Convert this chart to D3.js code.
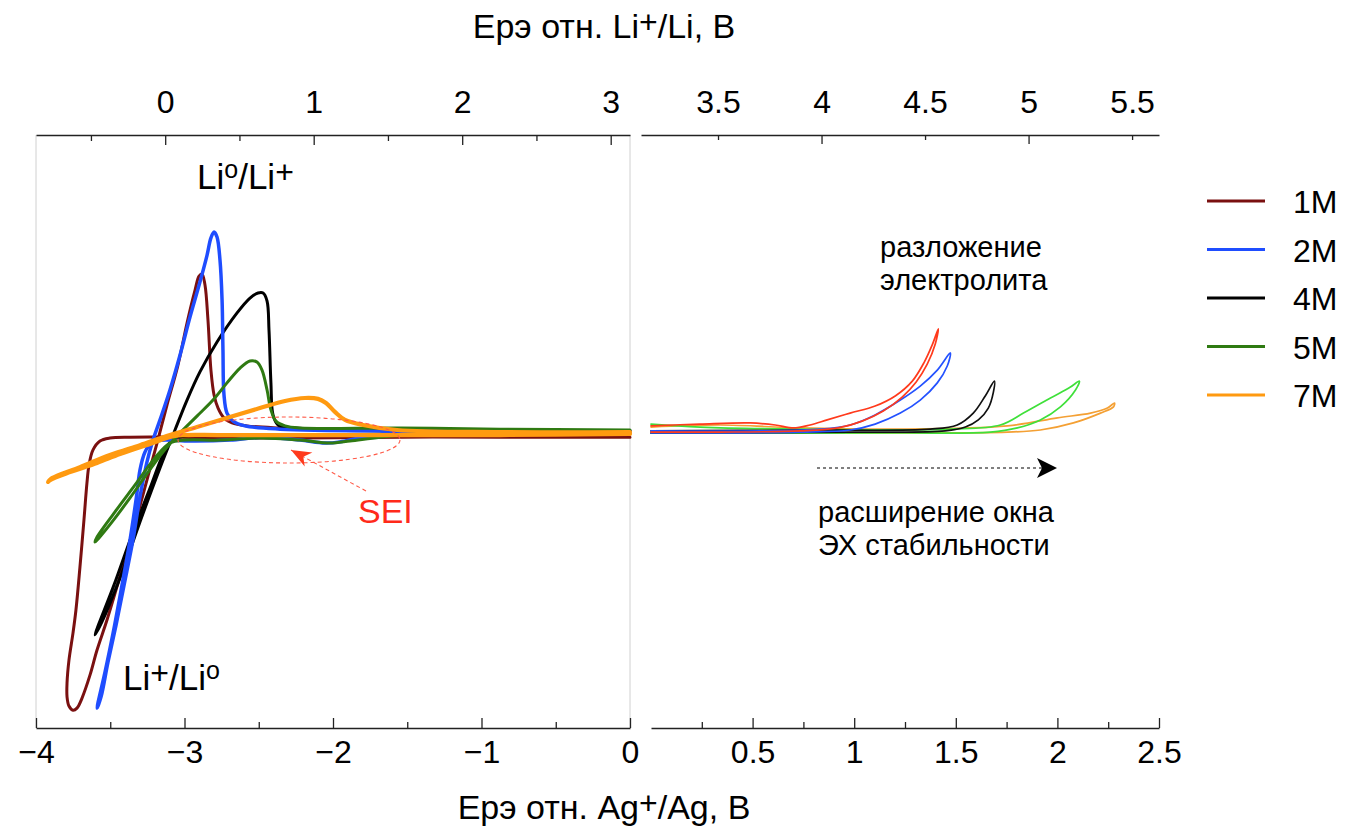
<!DOCTYPE html>
<html><head><meta charset="utf-8">
<script src="https://cdn.jsdelivr.net/npm/d3@7"></script>
<style>
html,body{margin:0;padding:0;background:#fff;}
svg text{font-family:"Liberation Sans",Arial,Helvetica,sans-serif;}
</style></head>
<body>
<svg id="chart" width="1345" height="833"></svg>
<script>
// ---------------- DATA ----------------
const seriesNames = ["1M","2M","4M","5M","7M"];

// Left panel (cathodic region), x = E vs Ag+/Ag (V), y = current (a.u.)
const left1M = [[0,-0.019],[-0.875,-0.019],[-1.549,-0.019],[-2.222,-0.022],[-2.694,-0.022],[-3.030,-0.019],[-3.367,-0.019],[-3.502,-0.022],[-3.569,-0.032],[-3.616,-0.062],[-3.643,-0.113],[-3.657,-0.174],[-3.677,-0.298],[-3.704,-0.457],[-3.731,-0.602],[-3.751,-0.680],[-3.778,-0.771],[-3.791,-0.848],[-3.791,-0.895],[-3.778,-0.926],[-3.751,-0.940],[-3.724,-0.933],[-3.690,-0.899],[-3.636,-0.821],[-3.589,-0.737],[-3.522,-0.636],[-3.455,-0.524],[-3.387,-0.406],[-3.320,-0.288],[-3.253,-0.164],[-3.185,-0.039],[-3.118,0.089],[-3.044,0.224],[-2.983,0.366],[-2.929,0.477],[-2.902,0.524],[-2.882,0.531],[-2.862,0.494],[-2.842,0.376],[-2.822,0.207],[-2.801,0.123],[-2.774,0.079],[-2.734,0.046],[-2.680,0.029],[-2.579,0.019],[-2.357,0.012],[-1.886,0.005],[-1.212,0.002],[0,0.002]];
const left2M = [[0,-0.002],[-0.875,-0.002],[-1.549,-0.005],[-1.798,-0.019],[-1.953,-0.035],[-2.054,-0.039],[-2.222,-0.029],[-2.471,-0.019],[-2.694,-0.029],[-2.963,-0.032],[-3.131,-0.029],[-3.219,-0.035],[-3.266,-0.069],[-3.300,-0.130],[-3.320,-0.207],[-3.367,-0.366],[-3.421,-0.518],[-3.481,-0.680],[-3.535,-0.811],[-3.589,-0.933],[-3.562,-0.895],[-3.515,-0.777],[-3.461,-0.653],[-3.407,-0.518],[-3.347,-0.366],[-3.300,-0.221],[-3.253,-0.103],[-3.212,-0.029],[-3.165,0.039],[-3.098,0.140],[-3.030,0.258],[-2.963,0.386],[-2.896,0.504],[-2.848,0.595],[-2.822,0.653],[-2.801,0.673],[-2.781,0.656],[-2.761,0.578],[-2.747,0.443],[-2.741,0.275],[-2.734,0.123],[-2.714,0.062],[-2.673,0.035],[-2.593,0.019],[-2.357,0.008],[-1.549,0.002],[0,0.002]];
const left4M = [[0,-0.005],[-0.875,-0.005],[-1.549,-0.008],[-2.222,-0.012],[-2.761,-0.012],[-2.997,-0.015],[-3.084,-0.029],[-3.145,-0.079],[-3.232,-0.191],[-3.354,-0.349],[-3.475,-0.518],[-3.603,-0.686],[-3.556,-0.642],[-3.434,-0.494],[-3.300,-0.305],[-3.165,-0.123],[-3.064,0.005],[-2.983,0.106],[-2.896,0.201],[-2.781,0.302],[-2.646,0.400],[-2.559,0.450],[-2.505,0.467],[-2.471,0.467],[-2.444,0.440],[-2.431,0.342],[-2.418,0.164],[-2.404,0.056],[-2.370,0.022],[-2.256,0.012],[-1.549,0.005],[0,0.002]];
const left5M = [[0,0.002],[-0.875,-0.002],[-1.414,-0.008],[-1.684,-0.019],[-1.886,-0.032],[-2.020,-0.039],[-2.222,-0.029],[-2.492,-0.022],[-2.761,-0.029],[-2.997,-0.029],[-3.098,-0.039],[-3.199,-0.089],[-3.333,-0.180],[-3.468,-0.271],[-3.589,-0.356],[-3.603,-0.373],[-3.576,-0.359],[-3.468,-0.292],[-3.367,-0.224],[-3.253,-0.143],[-3.145,-0.069],[-3.030,-0.005],[-2.916,0.052],[-2.808,0.106],[-2.714,0.164],[-2.626,0.214],[-2.559,0.238],[-2.512,0.234],[-2.478,0.207],[-2.444,0.140],[-2.418,0.073],[-2.384,0.035],[-2.323,0.019],[-2.222,0.012],[-1.549,0.012],[-0.875,0.008],[0,0.005]];
const left7M = [[0,-0.008],[-0.875,-0.012],[-1.549,-0.012],[-2.222,-0.012],[-2.761,-0.012],[-3.064,-0.015],[-3.232,-0.042],[-3.434,-0.076],[-3.589,-0.106],[-3.771,-0.137],[-3.906,-0.164],[-3.919,-0.170],[-3.892,-0.157],[-3.704,-0.120],[-3.502,-0.079],[-3.300,-0.046],[-3.098,-0.012],[-2.916,0.015],[-2.694,0.049],[-2.492,0.079],[-2.323,0.103],[-2.189,0.113],[-2.101,0.110],[-2.047,0.096],[-1.987,0.066],[-1.919,0.039],[-1.798,0.022],[-1.569,0.005],[-0.875,-0.002],[0,-0.002]];

// Right panel (anodic region), x = E vs Ag+/Ag (V)
const right1M = [[0,0.019],[0.241,0.025],[0.488,0.029],[0.611,0.022],[0.700,0.012],[0.783,0.022],[0.867,0.039],[0.980,0.062],[1.103,0.086],[1.202,0.120],[1.286,0.170],[1.345,0.234],[1.384,0.292],[1.414,0.346],[1.399,0.295],[1.360,0.228],[1.305,0.167],[1.236,0.116],[1.143,0.069],[1.039,0.035],[0.921,0.012],[0.734,0.002],[0.340,-0.002],[0,-0.002]];
const right2M = [[0,0.002],[0.537,0.002],[0.833,0.008],[0.980,0.022],[1.103,0.056],[1.227,0.106],[1.325,0.153],[1.409,0.207],[1.473,0.265],[1.458,0.221],[1.409,0.164],[1.325,0.106],[1.227,0.062],[1.103,0.025],[0.980,0.005],[0.734,-0.002],[0,-0.005]];
const right4M = [[0,0.002],[0.734,0.005],[1.374,0.008],[1.507,0.022],[1.586,0.062],[1.645,0.120],[1.690,0.170],[1.685,0.133],[1.660,0.079],[1.611,0.039],[1.547,0.015],[1.448,0.002],[0.980,-0.002],[0,-0.005]];
const right5M = [[0,0.025],[0.241,0.015],[0.734,0.008],[1.473,0.008],[1.719,0.022],[1.833,0.062],[1.966,0.113],[2.064,0.150],[2.108,0.170],[2.089,0.140],[2.015,0.083],[1.916,0.039],[1.803,0.012],[1.670,-0.002],[1.227,-0.005],[0,-0.005]];
const right7M = [[0,0.015],[0.340,0.022],[0.734,0.012],[1.227,0.008],[1.754,0.019],[2.000,0.046],[2.163,0.062],[2.246,0.079],[2.281,0.096],[2.276,0.083],[2.212,0.062],[2.079,0.029],[1.916,0.005],[1.754,-0.002],[1.227,-0.005],[0,-0.005]];

// Tick values
const bottomLeftTicks = [-4,-3,-2,-1,0];
const bottomLeftMinor = [-3.5,-2.5,-1.5,-0.5];
const topLeftTicks = [0,1,2,3];
const topLeftMinor = [-0.5,0.5,1.5,2.5];
const topRightTicks = [3.5,4,4.5,5,5.5];
const topRightLong = [4,5];
const bottomRightTicks = [0.5,1,1.5,2,2.5];
const bottomRightMinor = [0.25,0.75,1.25,1.75,2.25];

// ---------------- STYLE ----------------
const leftColors = {"1M":"#7a1010","2M":"#1f4dff","4M":"#000000","5M":"#2f7a12","7M":"#ff9a10"};
const leftWidths = {"1M":3,"2M":3.5,"4M":3,"5M":3,"7M":4.2};
const rightColors = {"1M":"#ff3a1c","2M":"#2452ff","4M":"#111111","5M":"#3fe03a","7M":"#f4a034"};
const leftData = {"1M":left1M,"2M":left2M,"4M":left4M,"5M":left5M,"7M":left7M};
const rightData = {"1M":right1M,"2M":right2M,"4M":right4M,"5M":right5M,"7M":right7M};

const svg = d3.select("#chart");
const FONT = '"Liberation Sans",Arial,Helvetica,sans-serif';

const y = d3.scaleLinear().domain([-1,1]).range([728,135]);
const xBL = d3.scaleLinear().domain([-4,0]).range([36,630]);
const xTL = d3.scaleLinear().domain([-0.87,3.13]).range([36,630]);
const xBR = d3.scaleLinear().domain([0,2.5]).range([651,1159]);
const xTR = d3.scaleLinear().domain([3.128,5.63]).range([641,1159]);

const fmt = d => String(d).replace("-", "\u2212");

// left panel light frame
svg.append("line").attr("x1",36).attr("x2",36).attr("y1",135).attr("y2",728).attr("stroke","#d0d0d0").attr("stroke-width",1);
svg.append("line").attr("x1",630).attr("x2",630).attr("y1",135).attr("y2",728).attr("stroke","#d0d0d0").attr("stroke-width",1);

function styleAxis(g, fs){
  g.attr("font-family", FONT).attr("font-size", fs);
  g.select(".domain").attr("stroke","#222").attr("stroke-width",1.6);
  g.selectAll(".tick line").attr("stroke","#222").attr("stroke-width",1.3);
  g.selectAll(".tick text").attr("fill","#000");
}
function minorAxis(axisFn, scale, vals, ty, size){
  const g = svg.append("g").attr("transform",`translate(0,${ty})`)
    .call(axisFn(scale).tickValues(vals).tickSize(size).tickFormat(""));
  g.select(".domain").remove();
  g.selectAll(".tick line").attr("stroke","#222").attr("stroke-width",1.3);
}

// bottom left
minorAxis(d3.axisBottom, xBL, bottomLeftMinor, 728, -6);
const gBL = svg.append("g").attr("transform","translate(0,728)")
  .call(d3.axisBottom(xBL).tickValues(bottomLeftTicks).tickSize(-10).tickSizeOuter(0).tickPadding(12).tickFormat(fmt));
styleAxis(gBL, 32);
// bottom right
minorAxis(d3.axisBottom, xBR, bottomRightMinor, 728, -6);
const gBR = svg.append("g").attr("transform","translate(0,728)")
  .call(d3.axisBottom(xBR).tickValues(bottomRightTicks).tickSize(-10).tickSizeOuter(0).tickPadding(12).tickFormat(fmt));
styleAxis(gBR, 32);
// top left
minorAxis(d3.axisTop, xTL, topLeftMinor, 135, -6);
const gTL = svg.append("g").attr("transform","translate(0,135)")
  .call(d3.axisTop(xTL).tickValues(topLeftTicks).tickSize(-10).tickSizeOuter(0).tickPadding(22).tickFormat(fmt));
styleAxis(gTL, 32);
// top right (long ticks at integers, short at halves)
const gTR = svg.append("g").attr("transform","translate(0,135)")
  .call(d3.axisTop(xTR).tickValues(topRightTicks).tickSize(-6).tickSizeOuter(0).tickPadding(22).tickFormat(fmt));
styleAxis(gTR, 32);
gTR.selectAll(".tick line").attr("y2", d => topRightLong.includes(d) ? 9 : 5);

// axis titles
function titleWithPlus(x, yb, pre, post){
  const t = svg.append("text").attr("x",x).attr("y",yb).attr("text-anchor","middle")
    .attr("font-size",34).attr("fill","#000");
  t.append("tspan").text(pre);
  t.append("tspan").attr("dy",-5).attr("font-size",32).text("+");
  t.append("tspan").attr("dy",5).text(post);
}
titleWithPlus(604, 38, "Ерэ отн. Li", "/Li, В");
titleWithPlus(604, 819, "Ерэ отн. Ag", "/Ag, В");

// curves
const lineL = d3.line().x(d=>xBL(d[0])).y(d=>y(d[1])).curve(d3.curveCatmullRom.alpha(0.5));
const lineR = d3.line().x(d=>xBR(d[0])).y(d=>y(d[1])).curve(d3.curveCatmullRom.alpha(0.5));

const drawOrderLeft = ["1M","4M","2M","5M","7M"];
drawOrderLeft.forEach(k=>{
  svg.append("path").datum(leftData[k]).attr("d",lineL).attr("fill","none")
    .attr("stroke",leftColors[k]).attr("stroke-width",leftWidths[k])
    .attr("stroke-linejoin","round").attr("stroke-linecap","round");
});
["7M","5M","4M","2M","1M"].forEach(k=>{
  svg.append("path").datum(rightData[k]).attr("d",lineR).attr("fill","none")
    .attr("stroke",rightColors[k]).attr("stroke-width",1.7)
    .attr("stroke-linejoin","round").attr("stroke-linecap","round");
});

// markers
const defs = svg.append("defs");
defs.append("marker").attr("id","arrRed").attr("viewBox","-22 -10 24 20").attr("refX",0).attr("refY",0)
  .attr("markerWidth",24).attr("markerHeight",20).attr("markerUnits","userSpaceOnUse").attr("orient","auto")
  .append("path").attr("d","M0,0 L-20,-8 L-14,0 L-20,8 Z").attr("fill","#ff3a1c");
defs.append("marker").attr("id","arrBlack").attr("viewBox","-22 -11 24 22").attr("refX",0).attr("refY",0)
  .attr("markerWidth",24).attr("markerHeight",22).attr("markerUnits","userSpaceOnUse").attr("orient","auto")
  .append("path").attr("d","M0,0 L-20,-10 L-15,0 L-20,10 Z").attr("fill","#000");

// SEI annotation
svg.append("ellipse").attr("cx",289).attr("cy",440).attr("rx",111).attr("ry",23)
  .attr("fill","none").attr("stroke","#ff5a48").attr("stroke-width",1.1).attr("stroke-dasharray","4,3");
svg.append("line").attr("x1",366).attr("y1",491).attr("x2",291).attr("y2",450)
  .attr("stroke","#ff5a48").attr("stroke-width",1.1).attr("stroke-dasharray","4,3").attr("marker-end","url(#arrRed)");
svg.append("text").attr("x",358).attr("y",523).attr("font-size",34).attr("fill","#ff2a1a").text("SEI");

// Li labels
function liLabel(x, yb, parts){
  const t = svg.append("text").attr("x",x).attr("y",yb).attr("font-size",35).attr("fill","#000");
  parts.forEach(p=>{
    const s = t.append("tspan").text(p.t);
    if(p.sup){ s.attr("dy",-p.sup).attr("font-size",p.fs); }
    if(p.down){ s.attr("dy",p.down); }
  });
}
liLabel(197, 189, [{t:"Li"},{t:"o",sup:11,fs:25},{t:"/Li",down:11},{t:"+",sup:6,fs:32}]);
liLabel(123, 690, [{t:"Li"},{t:"+",sup:6,fs:32},{t:"/Li",down:6},{t:"o",sup:11,fs:25}]);

// right annotations
svg.append("text").attr("x",880).attr("y",257).attr("font-size",29).text("разложение");
svg.append("text").attr("x",880).attr("y",290).attr("font-size",29).text("электролита");
svg.append("line").attr("x1",817).attr("y1",468).attr("x2",1057).attr("y2",468)
  .attr("stroke","#555").attr("stroke-width",1.3).attr("stroke-dasharray","3,3").attr("marker-end","url(#arrBlack)");
svg.append("text").attr("x",818).attr("y",522).attr("font-size",29).text("расширение окна");
svg.append("text").attr("x",818).attr("y",555).attr("font-size",29).text("ЭХ стабильности");

// legend
const legendY = d3.scalePoint().domain(seriesNames).range([201,395]);
const lg = svg.append("g");
seriesNames.forEach(k=>{
  lg.append("line").attr("x1",1207).attr("x2",1265).attr("y1",legendY(k)).attr("y2",legendY(k))
    .attr("stroke",leftColors[k]).attr("stroke-width",3.2);
  lg.append("text").attr("x",1293).attr("y",legendY(k)+12).attr("font-size",32).text(k);
});
</script>
</body></html>
